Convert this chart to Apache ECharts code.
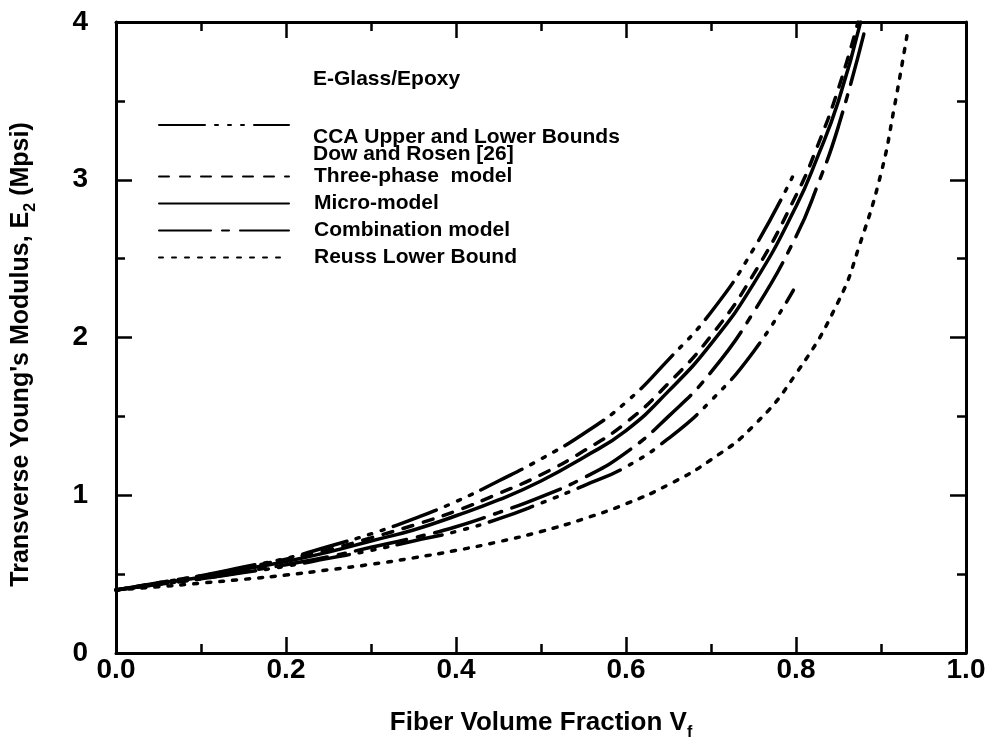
<!DOCTYPE html>
<html><head><meta charset="utf-8">
<script src="https://cdn.jsdelivr.net/npm/echarts@6/dist/echarts.min.js"></script>
<style>html,body{margin:0;padding:0;background:#fff}#c{width:996px;height:749px}</style>
</head><body><div id="c"></div>
<script>
// ---- data ----
const xTickLabels = ['0.0', '0.2', '0.4', '0.6', '0.8', '1.0'];
const yTickLabels = ['0', '1', '2', '3', '4'];

const vfCcaUpper = [0, 0.05, 0.1, 0.15, 0.2, 0.25, 0.3, 0.35, 0.4, 0.45, 0.5, 0.55, 0.6, 0.65, 0.7, 0.75, 0.796];
const e2CcaUpper = [0.40, 0.445, 0.49, 0.545, 0.60, 0.675, 0.755, 0.85, 0.96, 1.09, 1.23, 1.39, 1.59, 1.86, 2.16, 2.56, 3.02];

const vfCcaLower = [0, 0.05, 0.1, 0.15, 0.2, 0.25, 0.3, 0.35, 0.4, 0.45, 0.5, 0.55, 0.6, 0.65, 0.7, 0.75, 0.797];
const e2CcaLower = [0.40, 0.435, 0.47, 0.51, 0.55, 0.60, 0.65, 0.71, 0.77, 0.85, 0.95, 1.06, 1.18, 1.36, 1.60, 1.91, 2.30];

const vfThreePhase = [0, 0.05, 0.1, 0.15, 0.2, 0.25, 0.3, 0.35, 0.4, 0.45, 0.5, 0.55, 0.6, 0.65, 0.7, 0.75, 0.8, 0.825, 0.85, 0.873];
const e2ThreePhase = [0.40, 0.445, 0.49, 0.54, 0.595, 0.655, 0.73, 0.81, 0.90, 1.01, 1.13, 1.28, 1.46, 1.71, 2.01, 2.40, 2.90, 3.21, 3.58, 4.0];

const vfMicro = [0, 0.05, 0.1, 0.15, 0.2, 0.25, 0.3, 0.35, 0.4, 0.45, 0.5, 0.55, 0.6, 0.65, 0.7, 0.75, 0.8, 0.825, 0.85, 0.876];
const e2Micro = [0.40, 0.44, 0.48, 0.53, 0.58, 0.64, 0.71, 0.78, 0.87, 0.97, 1.09, 1.24, 1.41, 1.66, 1.96, 2.34, 2.83, 3.14, 3.50, 4.0];

const vfCombination = [0, 0.05, 0.1, 0.15, 0.2, 0.25, 0.3, 0.35, 0.4, 0.45, 0.5, 0.55, 0.6, 0.65, 0.7, 0.75, 0.8, 0.825, 0.85, 0.881];
const e2Combination = [0.40, 0.435, 0.47, 0.515, 0.56, 0.61, 0.67, 0.73, 0.80, 0.89, 0.99, 1.11, 1.27, 1.50, 1.78, 2.16, 2.64, 2.96, 3.34, 3.95];

const vfReuss = [0, 0.05, 0.1, 0.15, 0.2, 0.25, 0.3, 0.35, 0.4, 0.45, 0.5, 0.55, 0.6, 0.65, 0.7, 0.75, 0.8, 0.85, 0.875, 0.9, 0.915, 0.932];
const e2Reuss = [0.40, 0.42, 0.443, 0.467, 0.494, 0.527, 0.562, 0.603, 0.65, 0.705, 0.77, 0.85, 0.946, 1.067, 1.225, 1.44, 1.77, 2.23, 2.59, 3.04, 3.44, 3.96];

// ---- chart ----
const FONT = '"Liberation Sans", Arial, Helvetica, sans-serif';
const zip = (xs, ys) => xs.map((x, i) => [x, ys[i]]);
const chart = echarts.init(document.getElementById('c'), null, {renderer: 'canvas'});

const LW = 3.5;
const mk = (name, xs, ys, dash) => ({
  name, type: 'line', data: zip(xs, ys), smooth: 0.5,
  showSymbol: false, symbol: 'none', silent: true,
  itemStyle: {color: '#000'},
  lineStyle: {color: '#000', width: LW, type: dash, cap: 'round', join: 'round'}
});

const ccaDash = [46, 10, 3, 10, 3, 10, 3, 10];
const threeDash = [10, 11];
const combDash = [52, 11, 7, 11];
const reussDash = [4, 9];

const axisCommon = {
  axisLine: {show: true, onZero: false, lineStyle: {color: '#000', width: 3}},
  axisTick: {show: true, inside: true, length: 16, lineStyle: {color: '#000', width: 2.5}},
  minorTick: {show: true, splitNumber: 2, length: 9, lineStyle: {color: '#000', width: 2.5}},
  splitLine: {show: false},
  minorSplitLine: {show: false}
};
const tickFont = {color: '#000', fontFamily: FONT, fontWeight: 'bold', fontSize: 28};

const legendCommon = {
  orient: 'vertical', left: 158, itemWidth: 130, itemHeight: 14,
  selectedMode: false, padding: 0,
  itemStyle: {opacity: 0, borderWidth: 0}
};

const option = {
  backgroundColor: '#fff',
  animation: false,
  grid: {left: 116, right: 30, top: 22, bottom: 96, containLabel: false},
  xAxis: [
    Object.assign({}, axisCommon, {
      type: 'value', min: 0, max: 1, interval: 0.2, position: 'bottom',
      axisLabel: Object.assign({}, tickFont, {margin: 3, formatter: (v) => xTickLabels[Math.round(v / 0.2)]}),
      name: '{a|Fiber Volume Fraction V}{s|f}',
      nameLocation: 'middle', nameGap: 52,
      nameTextStyle: {
        rich: {
          a: {fontFamily: FONT, fontWeight: 'bold', fontSize: 26, color: '#000', lineHeight: 36, verticalAlign: 'middle'},
          s: {fontFamily: FONT, fontWeight: 'bold', fontSize: 16, color: '#000', lineHeight: 36, verticalAlign: 'bottom'}
        }
      }
    }),
    Object.assign({}, axisCommon, {
      type: 'value', min: 0, max: 1, interval: 0.2, position: 'top',
      axisLabel: {show: false}
    })
  ],
  yAxis: [
    Object.assign({}, axisCommon, {
      type: 'value', min: 0, max: 4, interval: 1, position: 'left',
      axisLabel: Object.assign({}, tickFont, {margin: 28, formatter: (v) => yTickLabels[Math.round(v)]}),
      name: '{a|Transverse Young\'s Modulus, E}{s|2}{a| (Mpsi)}',
      nameLocation: 'middle', nameGap: 77, nameRotate: 90,
      nameTextStyle: {
        padding: [0, 34, 0, 0],
        rich: {
          a: {fontFamily: FONT, fontWeight: 'bold', fontSize: 25, color: '#000', lineHeight: 36, verticalAlign: 'middle'},
          s: {fontFamily: FONT, fontWeight: 'bold', fontSize: 16, color: '#000', lineHeight: 36, verticalAlign: 'bottom'}
        }
      }
    }),
    Object.assign({}, axisCommon, {
      type: 'value', min: 0, max: 4, interval: 1, position: 'right',
      axisLabel: {show: false}
    })
  ],
  legend: [
    Object.assign({}, legendCommon, {
      data: ['CCA'], top: 118, formatter: () => '',
      textStyle: {fontSize: 1}
    }),
    Object.assign({}, legendCommon, {
      data: ['Three-phase  model', 'Micro-model', 'Combination model', 'Reuss Lower Bound'],
      top: 166, itemGap: 6,
      textStyle: {color: '#000', fontFamily: FONT, fontWeight: 'bold', fontSize: 21, lineHeight: 20, padding: [0, 0, 0, 20]}
    })
  ],
  graphic: [
    {type: 'text', left: 313, top: 69, silent: true,
     style: {text: 'E-Glass/Epoxy', fill: '#000', font: 'bold 21px ' + FONT}},
    {type: 'text', left: 313, top: 127, silent: true,
     style: {text: 'CCA Upper and Lower Bounds', fill: '#000', font: 'bold 21px ' + FONT}},
    {type: 'text', left: 313, top: 144, silent: true,
     style: {text: 'Dow and Rosen [26]', fill: '#000', font: 'bold 21px ' + FONT}}
  ],
  series: [
    mk('CCA', vfCcaUpper, e2CcaUpper, ccaDash),
    mk('CCA', vfCcaLower, e2CcaLower, ccaDash),
    mk('Three-phase  model', vfThreePhase, e2ThreePhase, threeDash),
    mk('Micro-model', vfMicro, e2Micro, 'solid'),
    mk('Combination model', vfCombination, e2Combination, combDash),
    mk('Reuss Lower Bound', vfReuss, e2Reuss, reussDash)
  ]
};
chart.setOption(option);
</script>
</body></html>
